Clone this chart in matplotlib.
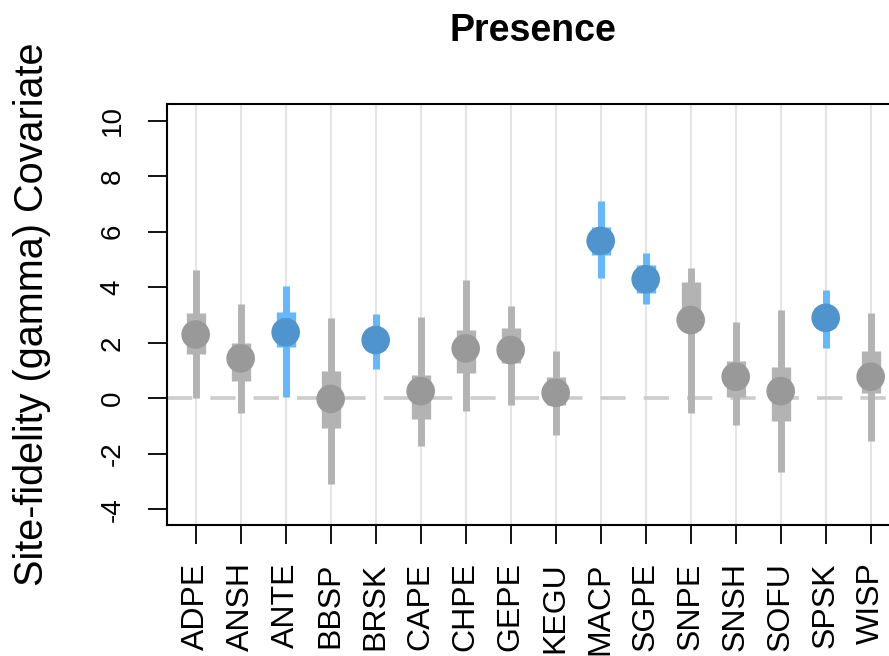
import numpy as np
import matplotlib
matplotlib.use("Agg")
import matplotlib.pyplot as plt

plt.rcParams['font.family'] = ['Liberation Sans', 'DejaVu Sans']
plt.rcParams['axes.unicode_minus'] = False

# species codes along the x axis
species = ['ADPE', 'ANSH', 'ANTE', 'BBSP', 'BRSK', 'CAPE', 'CHPE', 'GEPE',
           'KEGU', 'MACP', 'SGPE', 'SNPE', 'SNSH', 'SOFU', 'SPSK', 'WISP']

# posterior mean of the site-fidelity (gamma) covariate
est = [2.30, 1.44, 2.38, -0.02, 2.10, 0.26, 1.80, 1.74,
       0.20, 5.67, 4.29, 2.82, 0.78, 0.26, 2.90, 0.78]

# inner interval (thick bars)
in_lo = [1.58, 0.63, 1.86, -1.05, 1.75, -0.76, 0.92, 1.28,
         -0.25, 5.15, 3.80, 2.45, 0.06, -0.82, 2.55, 0.20]
in_hi = [3.08, 2.00, 3.10, 0.98, 2.45, 0.84, 2.46, 2.52,
         0.78, 6.18, 4.80, 4.20, 1.35, 1.14, 3.25, 1.71]

# outer interval (thin bars)
out_lo = [0.02, -0.54, 0.06, -3.09, 1.07, -1.71, -0.46, -0.24,
          -1.32, 4.35, 3.40, -0.54, -0.96, -2.64, 1.80, -1.54]
out_hi = [4.62, 3.39, 4.05, 2.88, 3.03, 2.94, 4.26, 3.32,
          1.71, 7.11, 5.22, 4.70, 2.74, 3.18, 3.90, 3.08]

# species whose outer interval excludes zero
signif = [False, False, True, False, True, False, False, False,
          False, True, True, False, False, False, True, False]

x = np.arange(len(species))
pt_col = ['#4F94CD' if s else '#999999' for s in signif]
bar_col = ['#63B8FF' if s else '#B3B3B3' for s in signif]

fig = plt.figure(figsize=(8.89, 6.56), dpi=100)
ax = fig.add_axes([0.1882, 0.1997, 0.8231, 0.6413])

ax.vlines(x, -4.56, 10.59, color='#E5E5E5', lw=1.5, zorder=0)
ax.axhline(0, color='#CCCCCC', lw=2.6, dashes=(7, 5), zorder=1)

ax.vlines(x, out_lo, out_hi, colors=bar_col, lw=5.0, capstyle='butt', zorder=2)
ax.vlines(x, in_lo, in_hi, colors=bar_col, lw=13.9, capstyle='butt', zorder=3)
ax.scatter(x, est, s=20.6 ** 2, c=pt_col, edgecolors='none', zorder=4)

ax.set_xlim(-0.63, 15.63)
ax.set_ylim(-4.56, 10.59)
ax.set_yticks(range(-4, 11, 2))
ax.set_xticks(x)
ax.set_xticklabels(species, rotation=90, fontsize=23)
ax.tick_params(axis='x', length=14, width=1.3, pad=13)
ax.tick_params(axis='y', length=14, width=1.3, pad=16, labelsize=20)
for lab in ax.get_yticklabels():
    lab.set_rotation(90)
    lab.set_va('center')
for sp in ax.spines.values():
    sp.set_linewidth(1.5)

fig.text(32 / 889, 0.5203, 'Site-fidelity (gamma) Covariate', fontsize=28.5,
         rotation=90, ha='center', va='center')
fig.text(533 / 889, 0.953, 'Presence', fontsize=27, fontweight='bold',
         ha='center', va='center')

fig.savefig('out.png', dpi=100)
